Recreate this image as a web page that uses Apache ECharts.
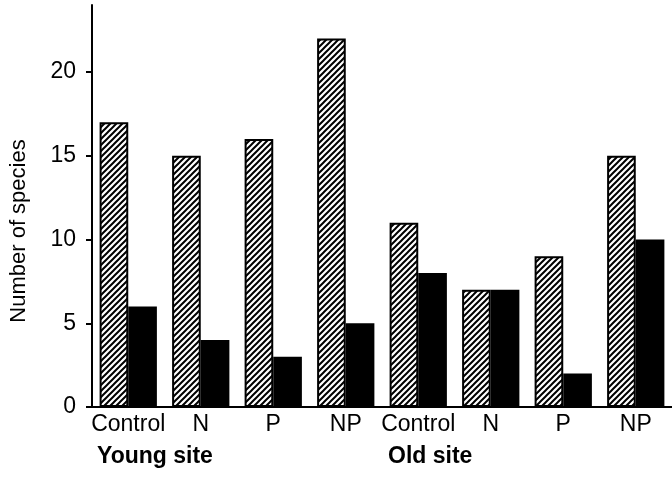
<!DOCTYPE html>
<html>
<head>
<meta charset="utf-8">
<script src="https://cdn.jsdelivr.net/npm/echarts@6/dist/echarts.min.js"></script>
<style>
html,body{margin:0;padding:0;background:#fff;}
#chart{width:672px;height:477px;}
</style>
</head>
<body>
<div id="chart"></div>
<script>
const categories = ['Control', 'N', 'P', 'NP', 'Control', 'N', 'P', 'NP'];
const hatchedValues = [17, 15, 16, 22, 11, 7, 9, 15];
const blackValues = [6, 4, 3, 5, 8, 7, 2, 10];
const yTicks = [0, 5, 10, 15, 20];
const groupLabels = ['Young site', 'Old site'];

function makeHatch() {
  const s = 6;
  const c = document.createElement('canvas');
  c.width = s; c.height = s;
  const ctx = c.getContext('2d');
  ctx.fillStyle = '#fff';
  ctx.fillRect(0, 0, s, s);
  ctx.strokeStyle = '#000';
  ctx.lineWidth = 2;
  ctx.beginPath();
  ctx.moveTo(-1, s + 1); ctx.lineTo(s + 1, -1);
  ctx.moveTo(-1, 1); ctx.lineTo(1, -1);
  ctx.moveTo(s - 1, s + 1); ctx.lineTo(s + 1, s - 1);
  ctx.stroke();
  return c;
}

const chart = echarts.init(document.getElementById('chart'), null, {renderer: 'canvas'});
const font = '"Liberation Sans", Arial, sans-serif';
chart.setOption({
  animation: false,
  backgroundColor: '#fff',
  grid: {left: 92, top: 5, width: 585, height: 402, containLabel: false},
  xAxis: {
    type: 'category',
    data: categories,
    axisLine: {lineStyle: {color: '#000', width: 2}},
    axisTick: {show: false},
    axisLabel: {color: '#000', fontSize: 23, fontFamily: font, margin: 6, interval: 0}
  },
  yAxis: {
    type: 'value',
    min: 0, max: 24, interval: 5,
    name: 'Number of species',
    nameLocation: 'middle',
    nameGap: 62,
    nameTextStyle: {color: '#000', fontSize: 22, fontFamily: font, padding: [0, 50, 0, 0]},
    splitLine: {show: false},
    axisLine: {show: true, lineStyle: {color: '#000', width: 2}},
    axisTick: {show: true, length: 6, lineStyle: {color: '#000', width: 2}, customValues: yTicks},
    axisLabel: {color: '#000', fontSize: 23, fontFamily: font, margin: 16, customValues: yTicks}
  },
  series: [
    {
      type: 'bar',
      data: hatchedValues,
      barGap: '0%',
      barCategoryGap: '21%',
      itemStyle: {color: {image: makeHatch(), repeat: 'repeat'}, borderColor: '#000', borderWidth: 2}
    },
    {
      type: 'bar',
      data: blackValues,
      itemStyle: {color: '#000', borderColor: '#000', borderWidth: 2}
    }
  ],
  graphic: [
    {type: 'text', left: 97, top: 445, style: {text: groupLabels[0], fill: '#000', font: 'bold 23px ' + font}},
    {type: 'text', left: 388, top: 445, style: {text: groupLabels[1], fill: '#000', font: 'bold 23px ' + font}}
  ]
});
</script>
</body>
</html>
